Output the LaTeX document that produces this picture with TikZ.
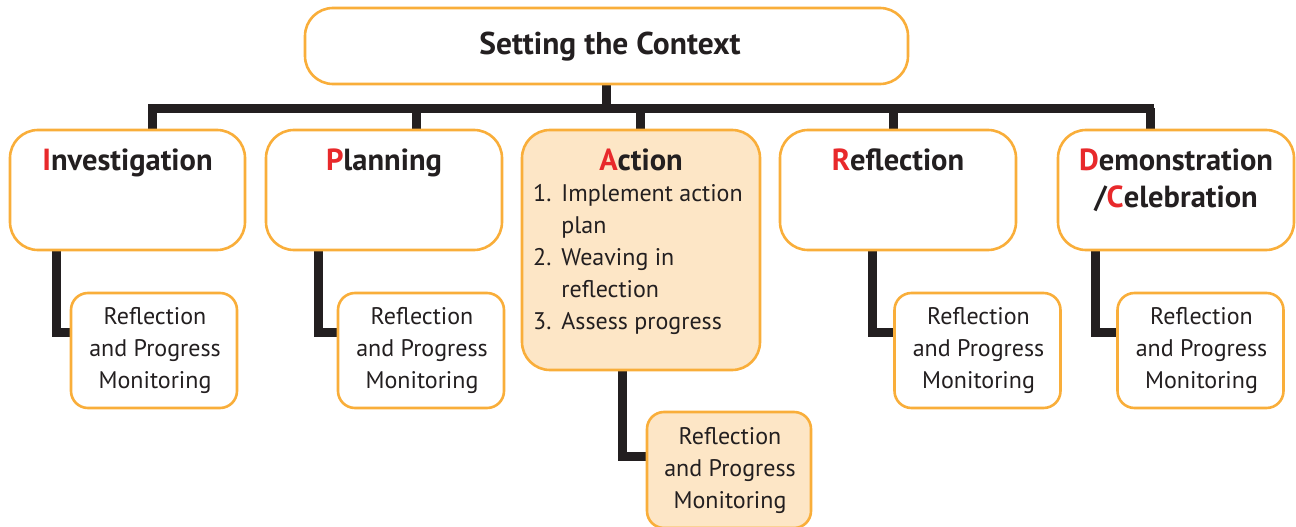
\documentclass[tikz,border=0pt]{standalone}
\usepackage{fontspec}
\setmainfont{PT Sans}
\usetikzlibrary{backgrounds}
\definecolor{boxorange}{HTML}{F9AE3A}
\definecolor{actfill}{HTML}{FDE6C6}
\definecolor{linedark}{HTML}{231F20}
\definecolor{initred}{HTML}{E8292B}
\definecolor{txt}{HTML}{231F20}
\newcommand{\ini}[1]{\textcolor{initred}{#1}}
\tikzset{
  x=1pt, y=-1pt,
  bigbox/.style={draw=boxorange, line width=2.6pt, rounded corners=28pt, fill=white, inner sep=0pt},
  smallbox/.style={draw=boxorange, line width=2.6pt, rounded corners=17pt, fill=white, inner sep=0pt,
    minimum width=166pt, minimum height=115pt},
  headtxt/.style={font=\fontsize{30.5}{37}\selectfont\bfseries, text=txt, align=center, inner sep=0pt},
  bodytxt/.style={font=\fontsize{24}{32}\selectfont, text=txt, align=center, inner sep=0pt},
  conn/.style={draw=linedark, line width=9pt, line join=miter},
}
\begin{document}
\begin{tikzpicture}
\useasboundingbox (0,0) rectangle (1296,527);
% top
\node[bigbox, minimum width=603pt, minimum height=76pt] (top) at (606.5,46) {};
\node[headtxt, font=\fontsize{31.5}{37}\selectfont\bfseries] (toptxt) at (610,47) {Setting the Context};
% second row
\node[bigbox, minimum width=235pt, minimum height=120pt] (inv) at (127.5,190) {};
\node[headtxt, anchor=base] (invtxt) at (127.5,170) {\ini{I}nvestigation};
\node[bigbox, minimum width=236pt, minimum height=120pt] (pla) at (384,190) {};
\node[headtxt, anchor=base] (platxt) at (384,170) {\ini{P}lanning};
\node[bigbox, fill=actfill, minimum width=238pt, minimum height=240pt] (act) at (641,250) {};
\node[headtxt, anchor=base] (acttxt) at (641,170) {\ini{A}ction};
\node[bodytxt, anchor=north west, align=left, font=\fontsize{24}{32}\selectfont] (actlist) at (533,179)
  {\begin{tabular}{@{}r@{\hspace{10pt}}l@{}}1.&Implement action\\&plan\\2.&Weaving in\\&reflection\\3.&Assess progress\end{tabular}};
\node[bigbox, minimum width=236pt, minimum height=120pt] (ref) at (898,190) {};
\node[headtxt, anchor=base] (reftxt) at (898,170) {\ini{R}eflection};
\node[bigbox, minimum width=236pt, minimum height=120pt] (dem) at (1176,190) {};
\node[headtxt, anchor=base] (demtxt) at (1176,207) {\ini{D}emonstration\\/\ini{C}elebration};
% small boxes
\node[smallbox] (invs) at (154,350.5) {};
\node[bodytxt] (invstxt) at (155,350) {Reflection\\and Progress\\Monitoring};
\node[smallbox] (plas) at (421,350.5) {};
\node[bodytxt] (plastxt) at (422,350) {Reflection\\and Progress\\Monitoring};
\node[smallbox, fill=actfill, minimum width=164pt, minimum height=116pt] (acts) at (729,470) {};
\node[bodytxt] (actstxt) at (730,470) {Reflection\\and Progress\\Monitoring};
\node[smallbox] (refs) at (977.5,350.5) {};
\node[bodytxt] (refstxt) at (978.5,350) {Reflection\\and Progress\\Monitoring};
\node[smallbox] (dems) at (1200.5,350.5) {};
\node[bodytxt] (demstxt) at (1201.5,350) {Reflection\\and Progress\\Monitoring};
% connectors
\coordinate (barL) at (148,108);
\coordinate (barR) at (1154,108);
\coordinate (d1) at (152,108);
\coordinate (d2) at (416,108);
\coordinate (d3) at (640,108);
\coordinate (d4) at (893,108);
\coordinate (d5) at (1150,108);
\begin{pgfonlayer}{background}
\draw[conn] (barL) -- (barR);
\draw[conn] (top.south) -- (top.south |- barL);
\draw[conn] (d1) -- (d1 |- inv.north);
\draw[conn] (d2) -- (d2 |- pla.north);
\draw[conn] (d3) -- (d3 |- act.north);
\draw[conn] (d4) -- (d4 |- ref.north);
\draw[conn] (d5) -- (d5 |- dem.north);
\draw[conn] (inv.south -| 56,0) |- ([yshift=18pt]invs.west);
\draw[conn] (pla.south -| 318,0) |- ([yshift=18pt]plas.west);
\draw[conn] (act.south -| 622,0) |- ([yshift=14pt]acts.west);
\draw[conn] (ref.south -| 872,0) |- ([yshift=18pt]refs.west);
\draw[conn] (dem.south -| 1095,0) |- ([yshift=18pt]dems.west);
\end{pgfonlayer}
\end{tikzpicture}
\end{document}
